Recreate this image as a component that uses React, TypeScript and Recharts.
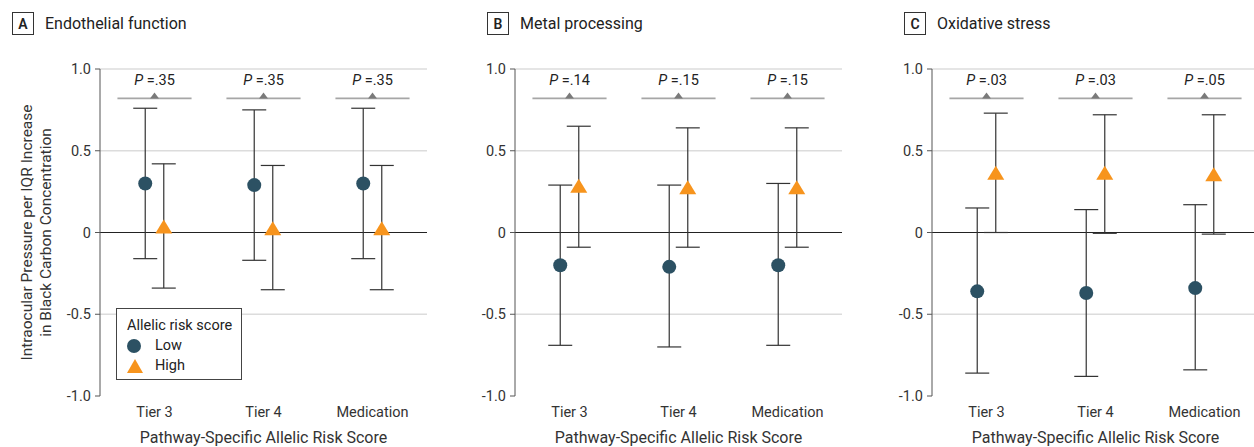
import React from 'react';
import { ComposedChart, Scatter, ErrorBar, XAxis, YAxis, ReferenceLine } from 'recharts';

const categories = ['Tier 3', 'Tier 4', 'Medication'];
const panelLetters = ['A', 'B', 'C'];
const panelTitles = ['Endothelial function', 'Metal processing', 'Oxidative stress'];

// A - endothelial function
const endoLow = [0.3, 0.29, 0.3];
const endoLowLo = [-0.16, -0.17, -0.16];
const endoLowHi = [0.76, 0.75, 0.76];
const endoHigh = [0.03, 0.02, 0.02];
const endoHighLo = [-0.34, -0.35, -0.35];
const endoHighHi = [0.42, 0.41, 0.41];
const endoP = ['.35', '.35', '.35'];

// B - metal processing
const metalLow = [-0.2, -0.21, -0.2];
const metalLowLo = [-0.69, -0.7, -0.69];
const metalLowHi = [0.29, 0.29, 0.3];
const metalHigh = [0.28, 0.27, 0.27];
const metalHighLo = [-0.09, -0.09, -0.09];
const metalHighHi = [0.65, 0.64, 0.64];
const metalP = ['.14', '.15', '.15'];

// C - oxidative stress
const oxLow = [-0.36, -0.37, -0.34];
const oxLowLo = [-0.86, -0.88, -0.84];
const oxLowHi = [0.15, 0.14, 0.17];
const oxHigh = [0.36, 0.36, 0.35];
const oxHighLo = [0.0, -0.005, -0.01];
const oxHighHi = [0.73, 0.72, 0.72];
const oxP = ['.03', '.03', '.05'];

const yTicks = [-1, -0.5, 0, 0.5, 1];
const pLineY = 0.82;

const FONT = 'Roboto, "Liberation Sans", sans-serif';
const LOW_COLOR = '#2c5163';
const HIGH_COLOR = '#f7941d';
const DODGE = 0.085;
const PHALF = 0.34;

const rows = (vals: number[], lo: number[], hi: number[], shift: number) =>
  vals.map((v, i) => ({ x: i + 0.5 + shift, y: v, err: [v - lo[i], hi[i] - v] }));

const panels = [
  { low: rows(endoLow, endoLowLo, endoLowHi, -DODGE), high: rows(endoHigh, endoHighLo, endoHighHi, DODGE), p: endoP },
  { low: rows(metalLow, metalLowLo, metalLowHi, -DODGE), high: rows(metalHigh, metalHighLo, metalHighHi, DODGE), p: metalP },
  { low: rows(oxLow, oxLowLo, oxLowHi, -DODGE), high: rows(oxHigh, oxHighLo, oxHighHi, DODGE), p: oxP },
];

const layout = [
  { left: 0, width: 430, marginLeft: 40, titleX: 12 },
  { left: 455, width: 390, marginLeft: 0, titleX: 487 },
  { left: 872, width: 390, marginLeft: 0, titleX: 904 },
];

const Circle = (props: any) => {
  const { cx, cy } = props;
  return <circle cx={cx} cy={cy} r={7} fill={LOW_COLOR} />;
};

const Triangle = (props: any) => {
  const { cx, cy } = props;
  return <path d={`M${cx},${cy - 8} L${cx + 8.5},${cy + 6} L${cx - 8.5},${cy + 6} Z`} fill={HIGH_COLOR} />;
};

const PMark = (props: any) => {
  const { cx, cy, payload } = props;
  return (
    <g>
      <path d={`M${cx},${cy - 6} L${cx + 4.5},${cy} L${cx - 4.5},${cy} Z`} fill="#7a7a7a" />
      <text x={cx} y={cy - 13} textAnchor="middle" fontSize={14.5} fill="#222" fontFamily={FONT}>
        <tspan fontStyle="italic">P</tspan> ={payload.p}
      </text>
    </g>
  );
};

const YTitle = (props: any) => {
  const vb = props.viewBox || {};
  const cy = vb.y + vb.height / 2;
  return (
    <g fontSize={15.5} fill="#333" fontFamily={FONT} textAnchor="middle">
      <text x={27} y={cy} transform={`rotate(-90 27 ${cy})`} dominantBaseline="central">
        Intraocular Pressure per IQR Increase
      </text>
      <text x={46} y={cy} transform={`rotate(-90 46 ${cy})`} dominantBaseline="central">
        in Black Carbon Concentration
      </text>
    </g>
  );
};

const LegendBox = () => (
  <div
    style={{
      position: 'absolute',
      left: 116,
      top: 308,
      width: 126,
      height: 72,
      border: '1px solid #444',
      background: '#fff',
      fontFamily: FONT,
      fontSize: 14.5,
      color: '#222',
      padding: '7px 0 0 10px',
      boxSizing: 'border-box',
      lineHeight: '20px',
    }}
  >
    <div>Allelic risk score</div>
    <div style={{ display: 'flex', alignItems: 'center' }}>
      <svg width={16} height={16} style={{ marginRight: 12 }}>
        <circle cx={7} cy={8} r={7} fill={LOW_COLOR} />
      </svg>
      Low
    </div>
    <div style={{ display: 'flex', alignItems: 'center' }}>
      <svg width={18} height={16} style={{ marginRight: 10 }}>
        <path d="M8,1 L16,15 L0,15 Z" fill={HIGH_COLOR} />
      </svg>
      High
    </div>
  </div>
);

const Panel = ({ idx }: { idx: number }) => {
  const d = panels[idx];
  const l = layout[idx];
  const pData = d.p.map((p, i) => ({ x: i + 0.5, y: pLineY, p }));
  return (
    <div style={{ position: 'absolute', left: l.left, top: 0 }}>
      <ComposedChart
        width={l.width}
        height={447}
        margin={{ top: 69, right: 3, bottom: 0, left: l.marginLeft }}
      >
        <XAxis
          type="number"
          dataKey="x"
          domain={[0, 3]}
          ticks={[0.5, 1.5, 2.5]}
          tickFormatter={(v: number) => categories[Math.floor(v)]}
          axisLine={false}
          tickLine={false}
          height={51}
          tickMargin={5}
          tick={{ fontSize: 14.5, fill: '#333', fontFamily: FONT }}
          label={{
            value: 'Pathway-Specific Allelic Risk Score',
            position: 'insideBottom',
            offset: 4,
            fontSize: 16,
            fill: '#333',
            fontFamily: FONT,
          }}
        />
        <YAxis
          type="number"
          dataKey="y"
          domain={[-1, 1]}
          ticks={yTicks}
          width={60}
          tickSize={5}
          tickMargin={4}
          stroke="#555"
          tick={{ fontSize: 14.5, fill: '#333', fontFamily: FONT }}
          tickFormatter={(v: number) => (v === 0 ? '0' : v.toFixed(1))}
          label={idx === 0 ? { content: YTitle } : undefined}
        />
        <ReferenceLine y={1} stroke="#dcdcdc" strokeWidth={1.5} />
        <ReferenceLine y={0.5} stroke="#dcdcdc" strokeWidth={1.5} />
        <ReferenceLine y={-0.5} stroke="#dcdcdc" strokeWidth={1.5} />
        <ReferenceLine y={0} stroke="#222" strokeWidth={1.2} />
        {d.p.map((_, i) => (
          <ReferenceLine
            key={i}
            segment={[
              { x: i + 0.5 - PHALF, y: pLineY },
              { x: i + 0.5 + PHALF, y: pLineY },
            ]}
            stroke="#a6a6a6"
            strokeWidth={1.8}
          />
        ))}
        <Scatter data={pData} shape={PMark} isAnimationActive={false} />
        <Scatter name="Low" data={d.low} shape={Circle} isAnimationActive={false}>
          <ErrorBar dataKey="err" direction="y" width={12} stroke="#333" strokeWidth={1.2} />
        </Scatter>
        <Scatter name="High" data={d.high} shape={Triangle} isAnimationActive={false}>
          <ErrorBar dataKey="err" direction="y" width={12} stroke="#333" strokeWidth={1.2} />
        </Scatter>
      </ComposedChart>
    </div>
  );
};

export default function App() {
  return (
    <div
      style={{
        position: 'absolute',
        left: 0,
        top: 0,
        width: 1254,
        height: 447,
        overflow: 'hidden',
        background: '#fff',
        fontFamily: FONT,
      }}
    >
      {[0, 1, 2].map((i) => (
        <Panel key={i} idx={i} />
      ))}
      <LegendBox />
      {[0, 1, 2].map((i) => (
        <div
          key={'t' + i}
          style={{ position: 'absolute', left: layout[i].titleX, top: 12, display: 'flex', alignItems: 'center' }}
        >
          <div
            style={{
              width: 22,
              height: 23,
              border: '1px solid #333',
              boxSizing: 'border-box',
              display: 'flex',
              alignItems: 'center',
              justifyContent: 'center',
              fontSize: 14,
              fontWeight: 600,
              color: '#222',
            }}
          >
            {panelLetters[i]}
          </div>
          <div style={{ marginLeft: 11, fontSize: 16, color: '#222' }}>{panelTitles[i]}</div>
        </div>
      ))}
    </div>
  );
}
